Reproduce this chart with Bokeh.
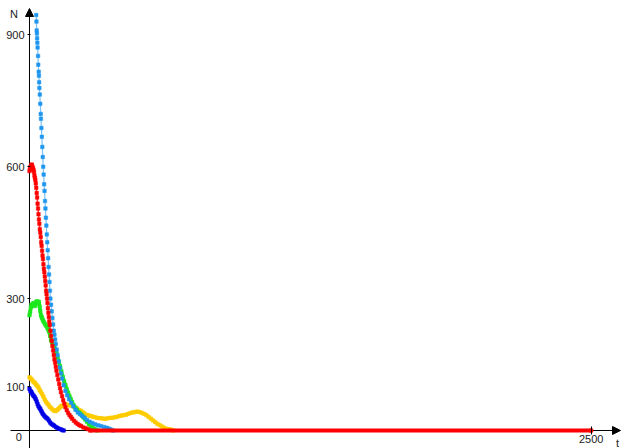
from bokeh.plotting import figure
from bokeh.models import Range1d, FixedTicker, Arrow, NormalHead, Label, ColumnDataSource
from bokeh.embed import file_html
from bokeh.resources import INLINE

# Population size N over time t for five runs
t_light = [30, 31, 32, 33, 34, 35, 36, 38, 39, 41, 42, 43, 44, 46, 48, 50, 51, 53, 55, 57,
           59, 61, 63, 65, 67, 69, 71, 73, 75, 77, 79, 81, 83, 85, 87, 89, 91, 93,
           96, 99, 102, 105, 108, 111, 114, 117, 121, 125, 130, 135, 140, 145, 152, 160,
           168, 176, 185, 195, 205, 215, 225, 235, 245, 256, 268, 280, 292, 305, 318, 332,
           345, 355, 362, 372]
n_light = [945, 930, 910, 903, 892, 882, 871, 852, 832, 816, 807, 792, 779, 764, 743, 720, 709, 688, 668, 645,
           622, 600, 582, 560, 545, 522, 505, 484, 466, 446, 428, 410, 392, 372, 355, 338, 318, 300,
           286, 271, 256, 241, 227, 218, 207, 197, 184, 172, 157, 143, 130, 118, 103, 90,
           80, 71, 63, 55, 47, 41, 37, 33, 29, 24, 20, 17, 14, 12, 10, 8,
           6, 4, 2, 0]

t_red = [0, 2, 4, 6, 8, 10, 12, 14, 16, 18, 20, 22, 24, 26, 28, 30, 32, 34, 36, 38,
         40, 42, 44, 46, 48, 50, 52, 54, 56, 58, 60, 62, 64, 66, 68, 70, 72, 74, 76, 78,
         80, 82, 84, 86, 88, 90, 93, 96, 99, 102, 105, 108, 111, 114, 117, 120,
         124, 128, 132, 136, 140, 145, 150, 155, 160, 166, 172, 178, 184, 190,
         198, 206, 214, 222, 230, 240, 250, 260, 270, 2500]
n_red = [590, 594, 600, 598, 603, 605, 602, 598, 596, 592, 588, 580, 575, 570, 562, 552, 540, 530, 516, 505,
         492, 480, 470, 458, 450, 440, 428, 420, 409, 398, 390, 378, 368, 360, 350, 340, 330, 318, 310, 300,
         290, 278, 268, 258, 248, 240, 227, 215, 204, 192, 182, 172, 162, 154, 145, 136,
         126, 116, 106, 96, 87, 78, 69, 61, 53, 46, 40, 35, 31, 27,
         22, 18, 15, 12, 10, 7, 5, 3, 0, 0]

t_green = [0, 3, 6, 9, 12, 15, 18, 21, 24, 27, 30, 33, 36, 39, 42, 45, 48, 51, 54, 57,
           60, 64, 68, 72, 76, 80, 84, 88, 92, 96, 100, 105, 110, 115, 120, 125, 130, 136, 142, 148,
           154, 160, 166, 172, 178, 184, 190, 197, 204, 211, 218, 225, 232, 240, 248, 256, 264, 272, 280, 288,
           296, 302]
n_green = [262, 270, 280, 286, 284, 288, 290, 285, 283, 288, 292, 294, 290, 293, 292, 282, 272, 262, 258, 255,
           250, 247, 243, 240, 237, 233, 229, 224, 215, 205, 200, 195, 190, 184, 176, 166, 157, 146, 134, 122,
           112, 103, 94, 86, 78, 71, 64, 57, 52, 47, 42, 39, 35, 30, 25, 20, 15, 10, 7, 4,
           2, 0]

t_dark = [0, 4, 8, 12, 16, 20, 24, 28, 32, 36, 40, 44, 48, 52, 56, 60, 65, 70, 75, 80,
          86, 92, 98, 104, 110, 117, 124, 131, 138, 145, 152]
n_dark = [95, 90, 88, 84, 80, 78, 75, 71, 66, 60, 55, 52, 49, 45, 41, 37, 34, 31, 29, 27,
          23, 18, 15, 13, 11, 8, 6, 4, 3, 1, 0]

t_yellow = [0, 5, 10, 15, 20, 25, 30, 35, 40, 45, 50, 56, 62, 68, 74, 80, 86, 92, 98, 104, 110,
            116, 122, 128, 134, 140, 146, 152, 158, 164, 170, 177, 184, 191, 198, 205, 212, 220, 228, 236, 244,
            252, 260, 270, 280, 290, 300, 310, 320, 330, 340, 350, 360,
            370, 380, 390, 400, 410, 420, 430, 440, 450, 460, 470, 480, 490, 500, 510, 520, 530, 540, 550, 560,
            570, 580, 590, 600, 610, 620, 630, 640]
n_yellow = [121, 118, 116, 112, 110, 108, 104, 101, 98, 92, 88, 83, 77, 70, 65, 61, 57, 53, 50, 47, 45,
            44, 46, 49, 52, 55, 57, 56, 58, 59, 58, 57, 58, 56, 54, 52, 50, 47, 45, 42, 39,
            36, 35, 33, 32, 30, 29, 28, 28, 27, 27, 28, 29,
            29, 30, 31, 33, 34, 35, 36, 38, 40, 41, 42, 43, 42, 40, 38, 35, 31, 27, 23, 19,
            15, 12, 9, 6, 4, 3, 2, 0]

y_ticks = [100, 300, 600, 900]
x_ticks = [2500]

FONT = "Liberation Sans"

p = figure(width=621, height=448,
           x_range=Range1d(-129.07, 2634.9), y_range=Range1d(-40.94, 978.0),
           output_backend="svg", toolbar_location=None, min_border=0,
           outline_line_color=None, background_fill_color="white",
           border_fill_color="white")
p.grid.visible = False

# Axes crossing at the origin, drawn as arrows
ax_head = dict(size=8, fill_color="black", line_color="black", line_width=1)
p.add_layout(Arrow(end=NormalHead(**ax_head), x_start=-84.6, y_start=0, x_end=2630.4, y_end=0,
                   line_color="black", line_width=1, level="underlay"))
p.add_layout(Arrow(end=NormalHead(**ax_head), x_start=0, y_start=-40.94, x_end=0, y_end=959.8,
                   line_color="black", line_width=1, level="underlay"))

xa = p.xaxis[0]
xa.fixed_location = 0
xa.ticker = FixedTicker(ticks=x_ticks)
xa.axis_line_color = None
xa.major_tick_in = 4
xa.major_tick_out = 4
xa.minor_tick_line_color = None
xa.major_label_standoff = 1
xa.major_label_text_font = FONT
xa.major_label_text_font_size = "11px"
xa.major_label_text_color = "#222222"

ya = p.yaxis[0]
ya.fixed_location = 0
ya.ticker = FixedTicker(ticks=y_ticks)
ya.axis_line_color = None
ya.major_tick_in = 1
ya.major_tick_out = 2
ya.minor_tick_line_color = None
ya.major_label_standoff = 3
ya.major_label_text_font = FONT
ya.major_label_text_font_size = "11px"
ya.major_label_text_color = "#222222"

series = [
    (t_yellow, n_yellow, "#ffcc00", 3.5, 1.0),
    (t_dark, n_dark, "#0000e6", 3.0, 1.0),
    (t_green, n_green, "#1ee81e", 3.5, 1.0),
    (t_light, n_light, "#1e96f0", 1.2, 0.6),
    (t_red, n_red, "#ff0000", 1.5, 0.8),
]
for t, n, color, lw, la in series:
    src = ColumnDataSource(dict(t=t, n=n))
    p.line("t", "n", source=src, line_color=color, line_width=lw, line_alpha=la)
    p.scatter("t", "n", source=src, marker="square", size=3.5,
              fill_color=color, line_color=color, line_width=0.5)

# the last run stays extinct: its flat stretch along N = 0 is drawn heavier
p.segment(x0=[t_red[-2]], y0=[n_red[-2]], x1=[t_red[-1]], y1=[n_red[-1]],
          line_color="#ff0000", line_width=4)

for txt, x, y in [("N", -69, 948.4), ("t", 2617, -27.3), ("0", -47.6, -15.2)]:
    p.add_layout(Label(x=x, y=y, text=txt, text_font=FONT, text_font_size="11px",
                       text_align="center", text_baseline="middle", text_color="#222222"))

open("out.html", "w").write(file_html(p, INLINE))
